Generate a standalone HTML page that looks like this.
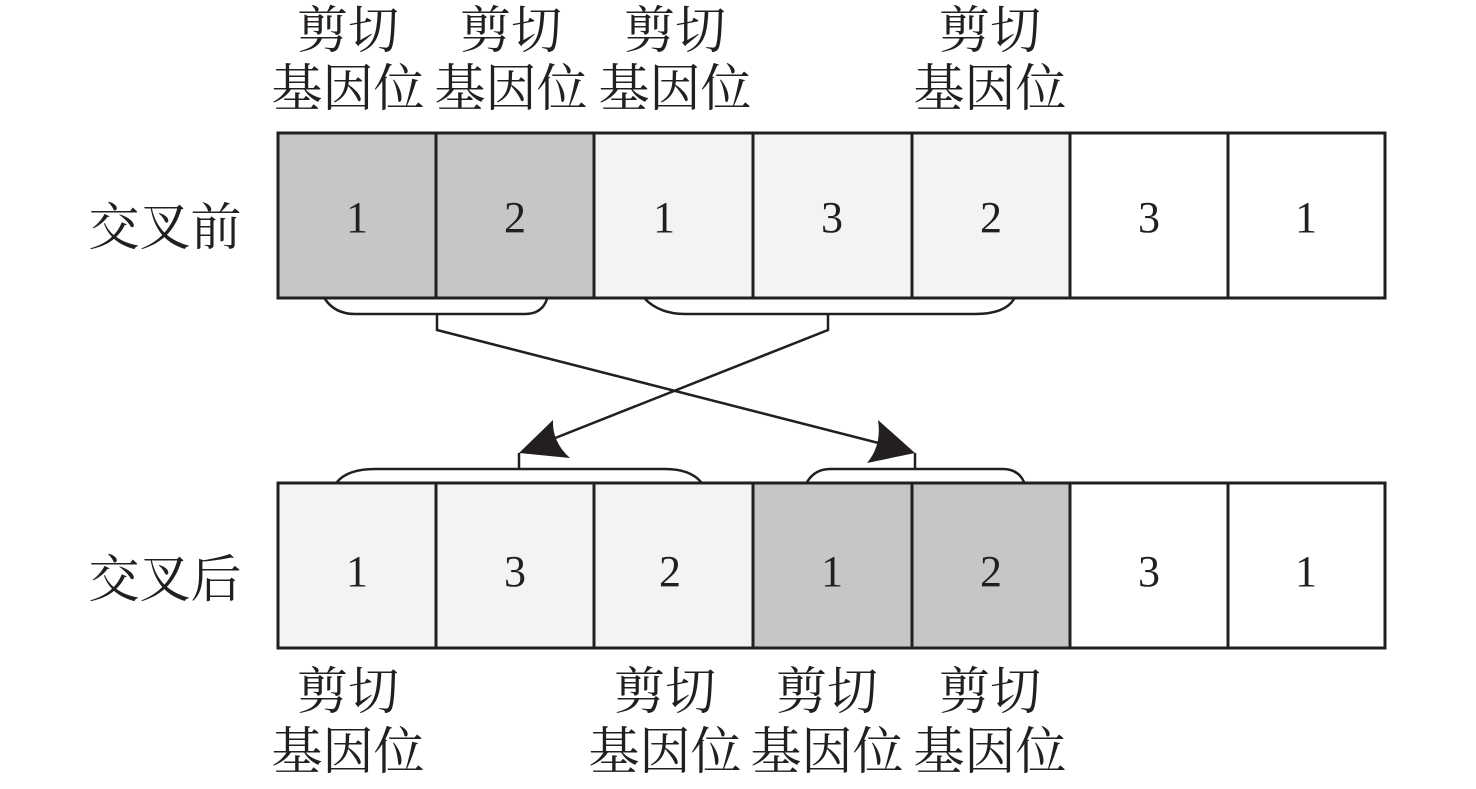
<!DOCTYPE html>
<html><head><meta charset="utf-8"><style>
html,body{margin:0;padding:0;background:#fff;}
svg{display:block}
.c{font-family:"Liberation Serif","Noto Serif CJK SC",serif;font-size:51px;fill:#231f20;text-anchor:middle}
.n{font-family:"Liberation Serif",serif;font-size:44px;fill:#231f20;text-anchor:middle}
</style></head><body>
<svg width="1476" height="789" viewBox="0 0 1476 789" xmlns="http://www.w3.org/2000/svg">
<g stroke="#231f20" stroke-width="3">
<rect x="278" y="133" width="158" height="165" fill="#c6c6c6"/>
<rect x="436" y="133" width="158" height="165" fill="#c6c6c6"/>
<rect x="594" y="133" width="159" height="165" fill="#f3f3f3"/>
<rect x="753" y="133" width="159" height="165" fill="#f3f3f3"/>
<rect x="912" y="133" width="158" height="165" fill="#f3f3f3"/>
<rect x="1070" y="133" width="158" height="165" fill="#fff"/>
<rect x="1228" y="133" width="157" height="165" fill="#fff"/>
<rect x="278" y="483" width="158" height="165" fill="#f3f3f3"/>
<rect x="436" y="483" width="158" height="165" fill="#f3f3f3"/>
<rect x="594" y="483" width="159" height="165" fill="#f3f3f3"/>
<rect x="753" y="483" width="159" height="165" fill="#c6c6c6"/>
<rect x="912" y="483" width="158" height="165" fill="#c6c6c6"/>
<rect x="1070" y="483" width="158" height="165" fill="#fff"/>
<rect x="1228" y="483" width="157" height="165" fill="#fff"/>
</g>
<g fill="none" stroke="#231f20" stroke-width="2.5">
<path d="M325 299 Q335 314 355 314 L525 314 Q542 314 547 299"/>
<path d="M645 299 Q660 314 685 314 L975 314 Q1005 314 1014 299"/>
<path d="M437 314 V330 L898 448"/>
<path d="M828 314 V330 L535 446"/>
<path d="M337 482 Q348 469 375 469 L665 469 Q690 469 701 482"/>
<path d="M807 482 Q815 469 830 469 L1003 469 Q1018 469 1024 482"/>
<path d="M519 453 V469"/>
<path d="M915 453 V469"/>
</g>
<path d="M519 453 L553 420 Q552 442 570 458 Z" fill="#231f20"/>
<path d="M915 453 L878 420 Q882 445 867 463 Z" fill="#231f20"/>
<g class="n">
<text x="357" y="232">1</text><text x="515" y="232">2</text><text x="664" y="232">1</text>
<text x="832" y="232">3</text><text x="991" y="232">2</text><text x="1149" y="232">3</text><text x="1306" y="232">1</text>
<text x="357" y="586">1</text><text x="515" y="586">3</text><text x="670" y="586">2</text>
<text x="832" y="586">1</text><text x="991" y="586">2</text><text x="1149" y="586">3</text><text x="1306" y="586">1</text>
</g>
<g class="c">
<text x="165" y="245">交叉前</text>
<text x="165" y="597">交叉后</text>
<text x="348" y="48">剪切</text><text x="348" y="106">基因位</text>
<text x="511" y="48">剪切</text><text x="511" y="106">基因位</text>
<text x="675" y="48">剪切</text><text x="675" y="106">基因位</text>
<text x="990" y="48">剪切</text><text x="990" y="106">基因位</text>
<text x="348" y="709">剪切</text><text x="348" y="769">基因位</text>
<text x="665" y="709">剪切</text><text x="665" y="769">基因位</text>
<text x="827" y="709">剪切</text><text x="827" y="769">基因位</text>
<text x="990" y="709">剪切</text><text x="990" y="769">基因位</text>
</g>
</svg>
</body></html>
